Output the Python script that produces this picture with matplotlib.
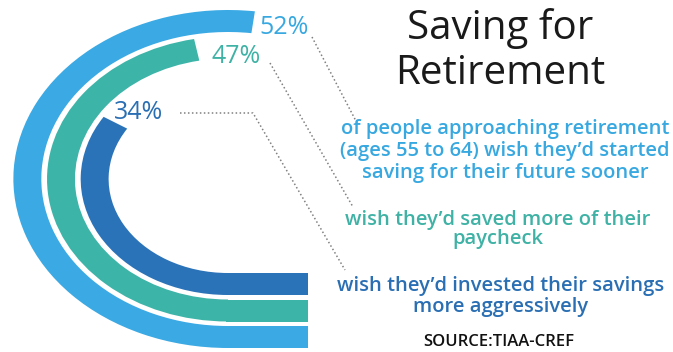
import matplotlib.pyplot as plt
from matplotlib.patches import Wedge

# data
values = [52, 47, 34]
labels = ["52%", "47%", "34%"]
colors = ["#3aa9e4", "#3db4a8", "#2b73b8"]
text_colors = ["#38a8e0", "#3fb2a5", "#2a6fb3"]
captions = [
    ["of people approaching retirement", "(ages 55 to 64) wish they\u2019d started", "saving for their future sooner"],
    ["wish they\u2019d saved more of their", "paycheck"],
    ["wish they\u2019d invested their savings", "more aggressively"],
]
title_lines = ["Saving for", "Retirement"]
source = "SOURCE:TIAA-CREF"

W, H = 673, 352
SX = 1.27           # horizontal stretch of the rings
cx, cy = 228, 179   # ring centre (px)
r_outer = [169, 142.5, 116]
band = 22
bar_end = 308

fig = plt.figure(figsize=(W / 100, H / 100), dpi=100)
plt.rcParams["font.family"] = ["Open Sans", "DejaVu Sans"]

# rings drawn in stretched units so circles become wide ellipses
ax = fig.add_axes([0, 0, 1, 1])
ax.set_xlim(0, W / SX)
ax.set_ylim(H, 0)
ax.axis("off")
for v, r, c in zip(values, r_outer, colors):
    ax.add_patch(Wedge((cx / SX, cy), r, 90, 90 + v * 3.6, width=band,
                       facecolor=c, edgecolor="none"))
    # start the straight part a touch inside the arc to hide the seam
    ax.barh(cy + r - band / 2, (bar_end - cx + 2) / SX, left=(cx - 2) / SX,
            height=band, color=c, edgecolor="none")

# text layer in pixel coords
tx = fig.add_axes([0, 0, 1, 1])
tx.set_xlim(0, W)
tx.set_ylim(H, 0)
tx.axis("off")
tx.patch.set_alpha(0)

pct_pos = [(259, 34), (211, 63), (114, 119)]
for (x, y), lab, c in zip(pct_pos, labels, text_colors):
    tx.text(x, y, lab, color=c, fontsize=18, va="baseline", ha="left")

dot = dict(color="#808080", lw=1.1, linestyle=(0, (1, 1.6)))
tx.plot([312, 357], [37, 123], **dot)
tx.plot([270, 353], [63, 207], **dot)
tx.plot([180, 253, 345], [113, 113, 270], **dot)

for line, y in zip(title_lines, [39, 84]):
    tx.text(500, y, line, color="#1a1a1a", fontsize=29, ha="center", va="baseline")

cap_base = [[134, 156, 178], [225, 244], [291, 312]]
cap_x = [505, 498, 501]
for lines, ys, x, c in zip(captions, cap_base, cap_x, text_colors):
    for line, y in zip(lines, ys):
        tx.text(x, y, line, color=c, fontsize=14.5, fontweight="semibold",
                ha="center", va="baseline")

tx.text(499, 346, source, color="#111111", fontsize=12, fontweight="semibold",
        ha="center", va="baseline")

fig.savefig("out.png", dpi=100)
